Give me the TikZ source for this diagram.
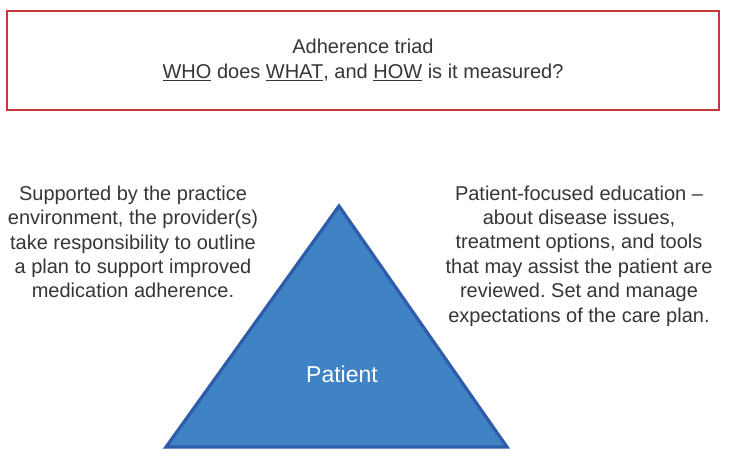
\documentclass[tikz,border=0pt]{standalone}
\usepackage{fontspec}
\setmainfont{Liberation Sans}
\frenchspacing
\definecolor{boxred}{HTML}{C8363A}
\definecolor{txtgray}{HTML}{363636}
\definecolor{trifill}{HTML}{3F83C4}
\definecolor{triedge}{HTML}{2F5CAA}
\begin{document}
\begin{tikzpicture}[x=1pt,y=-1pt,
  bodytext/.style={text=txtgray,align=center,inner sep=0pt,font=\fontsize{20}{24.4}\selectfont},
  titlebox/.style={draw=boxred,line width=1.8pt},
  tri/.style={fill=trifill,draw=triedge,line width=3.2pt,line join=miter}]
\useasboundingbox[fill=white] (0,0) rectangle (734,472);
\draw[titlebox] (7,11) rectangle (719,110);
\node[bodytext,font=\fontsize{20}{25.5}\selectfont] (title) at (363,60)
  {Adherence triad\\\underline{WHO} does \underline{WHAT}, and \underline{HOW} is it measured?};
\coordinate (apex) at (339,206);
\coordinate (bl) at (166,447);
\coordinate (br) at (507,447);
\draw[tri] (apex) -- (br) -- (bl) -- cycle;
\node[text=white,inner sep=0pt,font=\fontsize{23}{27}\selectfont] (patient) at (342,374) {Patient};
\node[bodytext] (left) at (133,242)
  {Supported by the practice\\environment, the provider(s)\\take responsibility to outline\\a plan to support improved\\medication adherence.};
\node[bodytext] (right) at (579,256)
  {Patient-focused education –\\about disease issues,\\treatment options, and tools\\that may assist the patient are\\reviewed. Set and manage\\expectations of the care plan.};
\end{tikzpicture}
\end{document}
